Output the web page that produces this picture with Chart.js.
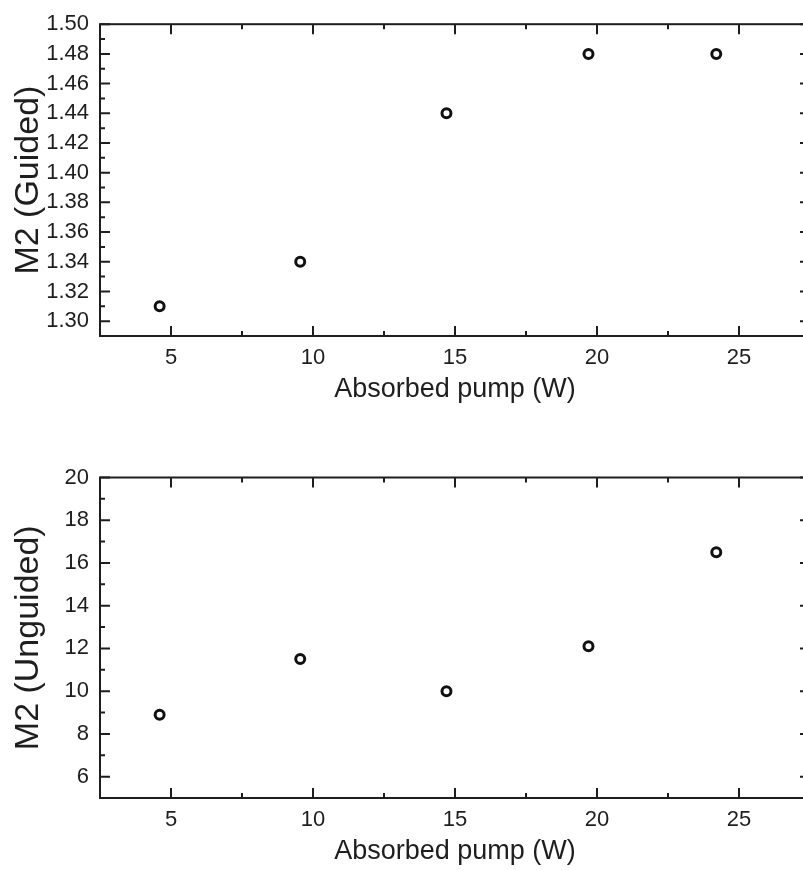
<!DOCTYPE html>
<html>
<head>
<meta charset="utf-8">
<script src="https://cdn.jsdelivr.net/npm/chart.js@4/dist/chart.umd.min.js"></script>
<style>
  html, body { margin: 0; padding: 0; background: #fff; overflow: hidden; width: 803px; height: 870px; }
  canvas { position: absolute; left: 0; }
  #guidedChart { top: 0; }
  #unguidedChart { top: 440px; }
</style>
</head>
<body>
<canvas id="guidedChart" width="820" height="406"></canvas>
<canvas id="unguidedChart" width="820" height="428"></canvas>
<script>
// absorbed pump power (W)
const pump = [4.6, 9.55, 14.7, 19.7, 24.2];
const m2Guided = [1.31, 1.34, 1.44, 1.48, 1.48];
const m2Unguided = [8.9, 11.5, 10.0, 12.1, 16.5];

const xTicks = [5, 10, 15, 20, 25];
const guidedTicks = [1.30, 1.32, 1.34, 1.36, 1.38, 1.40, 1.42, 1.44, 1.46, 1.48, 1.50];
const unguidedTicks = [6, 8, 10, 12, 14, 16, 18, 20];

const ink = '#1e1e1e';
const fontFamily = '"Liberation Sans", Arial, sans-serif';

// box frame + inward major/minor ticks on all four sides
const frameTicks = {
  id: 'frameTicks',
  beforeDatasetsDraw(chart) {
    const { ctx, chartArea: a, scales: { x, y } } = chart;
    ctx.save();
    ctx.strokeStyle = ink;
    ctx.lineWidth = 2;
    ctx.beginPath();

    const drawAxis = (scale, horizontal) => {
      const vals = scale.ticks.map(t => t.value);
      const step = vals[1] - vals[0];
      const marks = [];
      vals.forEach(v => marks.push([v, 10]));
      for (let v = vals[0] - step / 2; v < scale.max; v += step) {
        if (v > scale.min + 1e-9) marks.push([v, 5]);
      }
      marks.forEach(([v, len]) => {
        const p = scale.getPixelForValue(v);
        if (horizontal) {
          ctx.moveTo(p, a.bottom); ctx.lineTo(p, a.bottom - len);
          ctx.moveTo(p, a.top); ctx.lineTo(p, a.top + len);
        } else {
          ctx.moveTo(a.left, p); ctx.lineTo(a.left + len, p);
          ctx.moveTo(a.right, p); ctx.lineTo(a.right - len, p);
        }
      });
    };
    drawAxis(x, true);
    drawAxis(y, false);
    ctx.stroke();
    ctx.strokeRect(a.left, a.top, a.right - a.left, a.bottom - a.top);
    ctx.restore();
  }
};

function makeChart(id, values, yTitle, yMin, yMax, yTickVals, yFormat, padTop) {
  return new Chart(document.getElementById(id), {
    type: 'scatter',
    data: {
      datasets: [{
        data: pump.map((p, i) => ({ x: p, y: values[i] })),
        pointStyle: 'circle',
        pointRadius: 4.5,
        pointHoverRadius: 4.5,
        borderWidth: 3,
        borderColor: '#111',
        backgroundColor: '#fff'
      }]
    },
    options: {
      responsive: false,
      animation: false,
      events: [],
      layout: { padding: { top: padTop, left: 0, right: 10, bottom: 0 } },
      plugins: { legend: { display: false }, tooltip: { enabled: false } },
      scales: {
        x: {
          type: 'linear',
          min: 2.5,
          max: 27.5,
          afterBuildTicks: s => { s.ticks = xTicks.map(v => ({ value: v })); },
          afterFit: s => { s.height = 70; },
          grid: { display: false, drawTicks: false },
          border: { display: false },
          ticks: { padding: 9, color: ink, font: { family: fontFamily, size: 22 } },
          title: {
            display: true,
            text: 'Absorbed pump (W)',
            color: ink,
            padding: { top: 0, bottom: 0 },
            font: { family: fontFamily, size: 27 }
          }
        },
        y: {
          type: 'linear',
          min: yMin,
          max: yMax,
          afterBuildTicks: s => { s.ticks = yTickVals.map(v => ({ value: v })); },
          afterFit: s => { s.width = 100; },
          grid: { display: false, drawTicks: false },
          border: { display: false },
          ticks: { padding: 11, color: ink, font: { family: fontFamily, size: 22 }, callback: yFormat },
          title: {
            display: true,
            text: yTitle,
            color: ink,
            padding: { top: 8, bottom: 0 },
            font: { family: fontFamily, size: 34 }
          }
        }
      }
    },
    plugins: [frameTicks]
  });
}

makeChart('guidedChart', m2Guided, 'M2 (Guided)', 1.29, 1.50, guidedTicks, v => Number(v).toFixed(2), 15);
makeChart('unguidedChart', m2Unguided, 'M2 (Unguided)', 5, 20, unguidedTicks, v => v, 37.5);
</script>
</body>
</html>
